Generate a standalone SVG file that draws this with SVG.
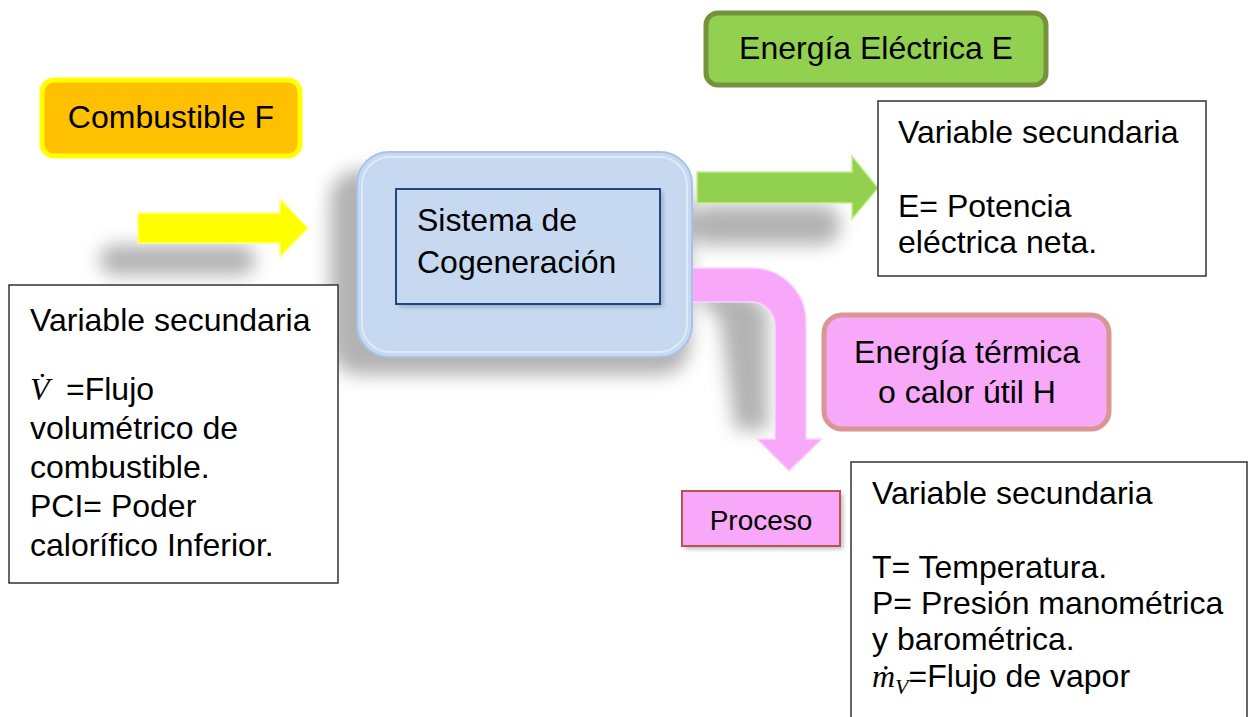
<svg xmlns="http://www.w3.org/2000/svg" width="1249" height="717" viewBox="0 0 1249 717">
<style>
text{font-family:"Liberation Sans",Arial,sans-serif;font-size:32px;fill:#000}
.c{text-anchor:middle}
.box{fill:#fff;stroke:#333;stroke-width:1.5}
.m{font-family:"Liberation Serif","DejaVu Serif",serif;font-style:italic}
</style>
<defs>
<filter id="blur" x="-50%" y="-50%" width="200%" height="200%"><feGaussianBlur stdDeviation="9"/></filter>
<filter id="sblur" x="-20%" y="-20%" width="140%" height="140%"><feGaussianBlur stdDeviation="2"/></filter>
</defs>
<rect width="1249" height="717" fill="#fff"/>

<!-- shadows -->
<g id="shadows" fill="#9a9a9a" opacity="0.75" filter="url(#blur)">
<rect x="330" y="170" width="360" height="205" rx="30"/>
<rect x="100" y="245" width="155" height="30" rx="14"/>
<rect x="690" y="205" width="150" height="40" rx="18"/>
<path d="M690 290 L745 290 L768 310 L768 430 L735 430 L720 320 Z"/>
</g>

<g id="connectors">
<polygon points="138,213 280,213 280,199 308,228 280,257 280,243 138,243" fill="#FFFF00" stroke="#FFFF80" stroke-width="1.5"/>
<polygon points="697,172 852,172 852,156 878,188 852,219 852,203 697,203" fill="#92D050" stroke="#C6EF8E" stroke-width="1.5"/>
<path d="M688 268 L752 268 A54 54 0 0 1 806 322 L806 439 L822 439 L789 471 L757 439 L775 439 L775 326 A24 24 0 0 0 751 302 L688 302 Z" fill="#F8A8F8" stroke="#FCD4FC" stroke-width="1.5"/>
</g>

<g id="combustible">
<rect x="42" y="80" width="258" height="76" rx="12" fill="#FFC000" stroke="#FFFF00" stroke-width="5"/>
<text class="c" x="171" y="128">Combustible F</text>
</g>

<g id="sistema">
<rect x="357" y="152" width="335" height="205" rx="32" fill="#C6D9F1" stroke="#A9C3E3" stroke-width="2"/>
<rect x="362" y="157" width="325" height="195" rx="28" fill="none" stroke="#E3EDF9" stroke-width="2" opacity="0.8"/>
<rect x="399" y="192" width="264" height="115" fill="#6f7f95" opacity="0.5" filter="url(#sblur)"/>
<rect x="396" y="189" width="264" height="115" fill="#C6D9F1" stroke="#1F497D" stroke-width="2"/>
<text x="417" y="231">Sistema de</text>
<text x="417" y="273">Cogeneración</text>
</g>

<g id="electrica">
<rect x="706" y="13" width="340" height="72" rx="12" fill="#92D050" stroke="#76923C" stroke-width="5"/>
<text class="c" x="876" y="59">Energía Eléctrica E</text>
</g>

<g id="var-e">
<rect class="box" x="878" y="101" width="328" height="175"/>
<text x="898" y="143">Variable secundaria</text>
<text x="898" y="217">E= Potencia</text>
<text x="898" y="253">eléctrica neta.</text>
</g>

<g id="termica">
<rect x="824" y="315" width="285" height="114" rx="18" fill="#F8A8F8" stroke="#D99694" stroke-width="5"/>
<text class="c" x="967" y="363">Energía térmica</text>
<text class="c" x="967" y="403">o calor útil H</text>
</g>

<g id="proceso">
<rect x="685" y="494" width="158" height="55" fill="#777" opacity="0.5" filter="url(#sblur)"/>
<rect x="682" y="491" width="158" height="55" fill="#F8A8F8" stroke="#C0504D" stroke-width="2"/>
<text class="c" x="761" y="530" style="font-size:28px">Proceso</text>
</g>

<g id="var-f">
<rect class="box" x="9" y="285" width="329" height="298"/>
<text x="30" y="331">Variable secundaria</text>
<text x="30" y="400"><tspan class="m">V&#x307;</tspan></text>
<text x="66" y="400">=Flujo</text>
<text x="30" y="439">volumétrico de</text>
<text x="30" y="478">combustible.</text>
<text x="30" y="517">PCI= Poder</text>
<text x="30" y="556">calorífico Inferior.</text>
</g>

<g id="var-h">
<rect class="box" x="851" y="462" width="396" height="270"/>
<text x="872" y="504">Variable secundaria</text>
<text x="872" y="578">T= Temperatura.</text>
<text x="872" y="614">P= Presión manométrica</text>
<text x="872" y="650">y barométrica.</text>
<text x="872" y="687"><tspan class="m">ṁ</tspan><tspan class="m" style="font-size:22px" dy="7">V</tspan><tspan dy="-7">=Flujo de vapor</tspan></text>
</g>
</svg>
